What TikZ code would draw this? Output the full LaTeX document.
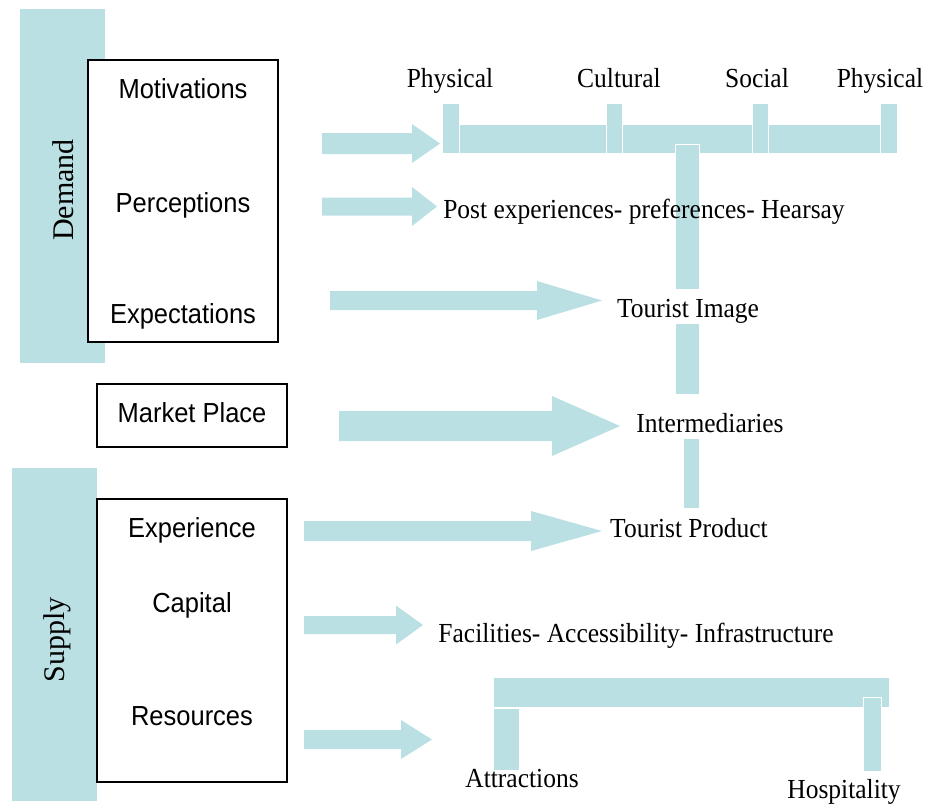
\documentclass[tikz,border=0pt]{standalone}
\usepackage{graphicx}
\usepackage{fontspec}
\setmainfont{Liberation Serif}
\setsansfont{Liberation Sans}
\definecolor{pale}{RGB}{187,224,227}
\newcommand{\blockarr}[6]{%
  \fill[pale] ({#1},{#4-#5}) -- ({#2},{#4-#5}) -- ({#2},{#4-#6}) -- ({#3},{#4})
    -- ({#2},{#4+#6}) -- ({#2},{#4+#5}) -- ({#1},{#4+#5}) -- cycle;}
\newcommand{\tall}[1]{\scalebox{1}[1.08]{#1}}
\begin{document}
\begin{tikzpicture}[x=1pt,y=-1pt,
  band/.style={fill=pale,draw=white,line width=0.8pt},
  plain/.style={fill=pale},
  box/.style={draw=black,fill=white,line width=1.2pt,inner sep=0pt},
  sf/.style={font=\sffamily\fontsize{25.5}{30}\selectfont,anchor=base,inner sep=0pt},
  rm/.style={font=\fontsize{25.5}{30}\selectfont,anchor=base,inner sep=0pt},
  side/.style={font=\fontsize{30}{36}\selectfont,rotate=90,inner sep=0pt}]
\useasboundingbox (0,0) rectangle (926,804);

% side bands
\fill[plain] (20,9) rectangle (105,363);
\fill[plain] (12,468) rectangle (97,801);

% boxes
\node[box,minimum width=190pt,minimum height=282pt] (dem) at (183,201) {};
\node[box,minimum width=190pt,minimum height=63pt] (mkt) at (192,415.5) {};
\node[box,minimum width=190pt,minimum height=283pt] (sup) at (192,640.5) {};

% side labels
\node[side] (demand) at (63,190) {Demand};
\node[side] (supply) at (57,640) {Supply};

% block arrows
\blockarr{322}{412}{440}{143.5}{10.5}{19.5}
\blockarr{322}{412}{437}{206.5}{9}{19.5}
\blockarr{330}{537}{602}{300.5}{9.5}{19.5}
\blockarr{339}{552}{620}{426}{15}{30}
\blockarr{304}{531}{602}{531}{10}{20}
\blockarr{304}{396}{423}{625}{9}{19.5}
\blockarr{304}{401}{432}{739.5}{9.5}{19.5}

% top bar with tabs
\draw[band] (459,124) rectangle (606,153);
\draw[band] (622,124) rectangle (752,153);
\draw[band] (768,124) rectangle (880,153);
\draw[band] (442,103) rectangle (459,153);
\draw[band] (606,103) rectangle (622,153);
\draw[band] (752,103) rectangle (768,153);
\draw[band] (880,103) rectangle (897,153);

% central stem
\draw[band] (675,144) rectangle (699,289);
\draw[band] (675,323) rectangle (699,394);
\draw[band] (683,438) rectangle (699,508);

% bottom bar
\draw[band] (493,677) rectangle (889,707);
\draw[band] (493,708) rectangle (519,770);
\draw[band] (863,697) rectangle (881,771);

% left texts
\node[sf] (mot) at (183,98) {\tall{Motivations}};
\node[sf] (per) at (183,212) {\tall{Perceptions}};
\node[sf] (exp) at (183,323) {\tall{Expectations}};
\node[sf] (mp)  at (192,422) {\tall{Market Place}};
\node[sf] (xpe) at (192,537) {\tall{Experience}};
\node[sf] (cap) at (192,612) {\tall{Capital}};
\node[sf] (res) at (192,725) {\tall{Resources}};

% right texts
\node[rm] (ph1) at (450,87) {\tall{Physical}};
\node[rm] (cul) at (619,87) {\tall{Cultural}};
\node[rm] (soc) at (757,87) {\tall{Social}};
\node[rm] (ph2) at (880,87) {\tall{Physical}};
\node[rm] (post) at (644,218) {\tall{Post experiences- preferences- Hearsay}};
\node[rm] (img) at (688,317) {\tall{Tourist Image}};
\node[rm] (int) at (710,432) {\tall{Intermediaries}};
\node[rm] (prod) at (689,537) {\tall{Tourist Product}};
\node[rm] (fac) at (636,642) {\tall{Facilities- Accessibility- Infrastructure}};
\node[rm] (att) at (522,787) {\tall{Attractions}};
\node[rm] (hos) at (844,798) {\tall{Hospitality}};
\end{tikzpicture}
\end{document}
